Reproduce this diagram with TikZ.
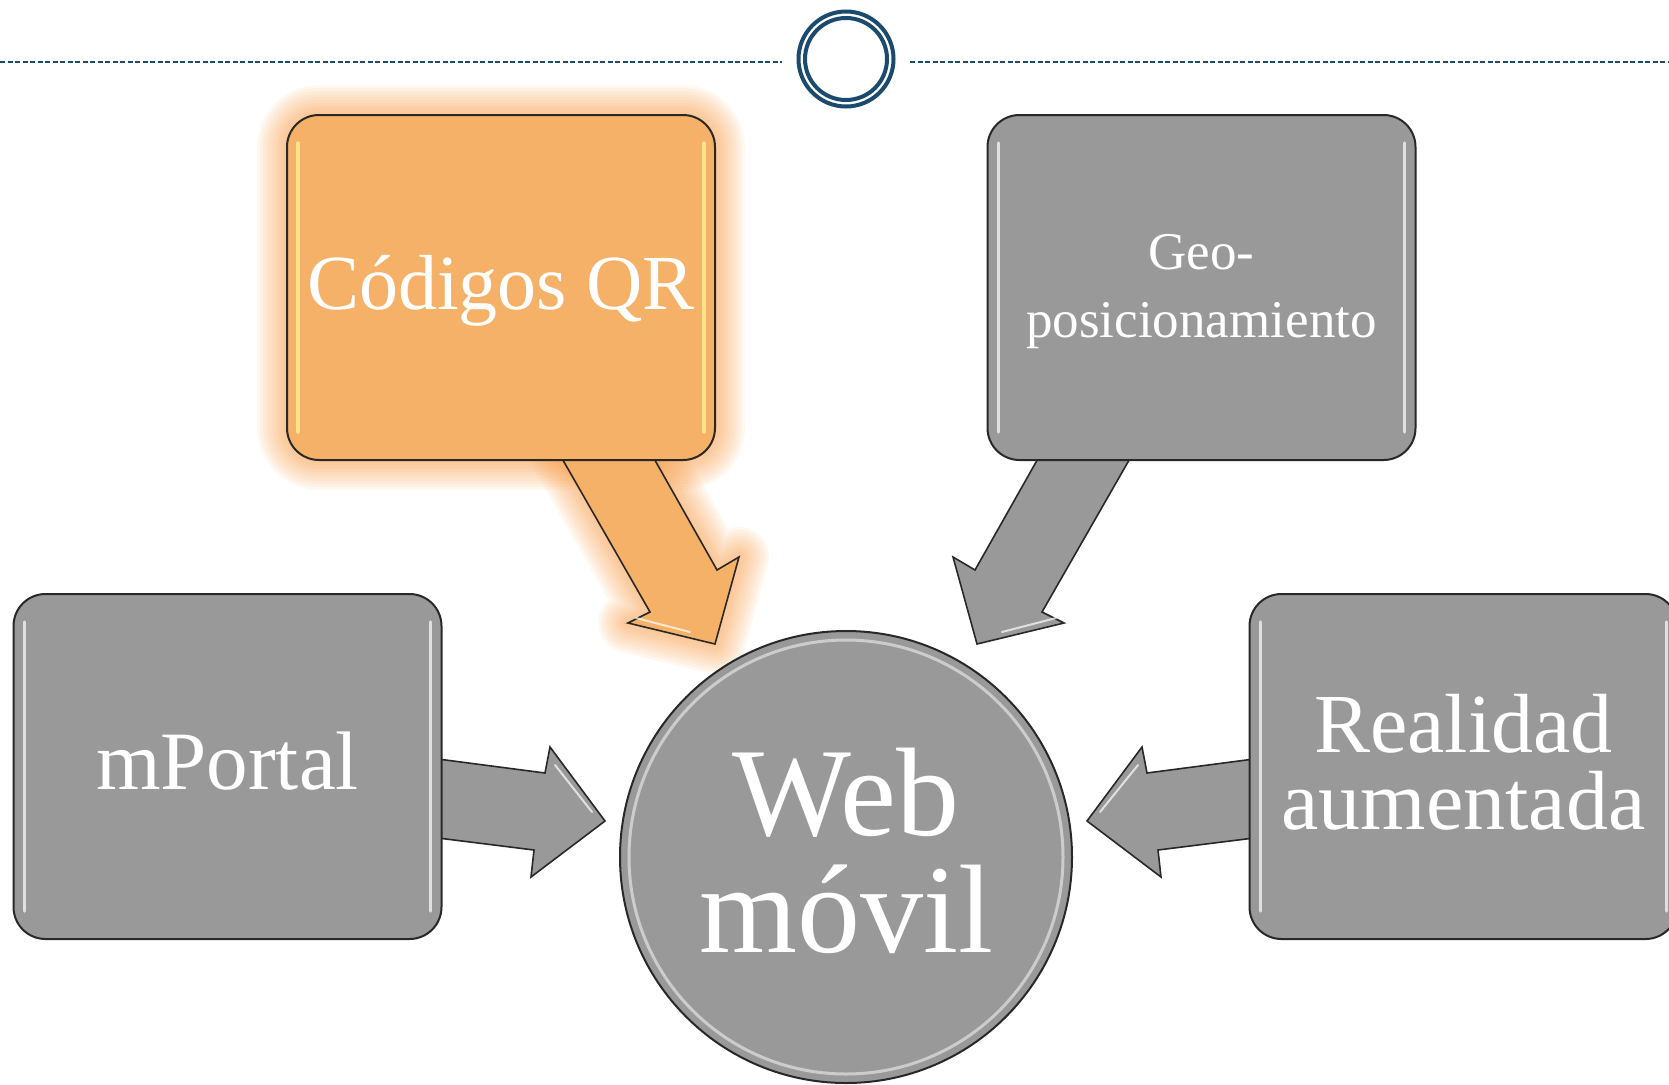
\documentclass[tikz,border=0pt]{standalone}
\usepackage{fontspec}
\setmainfont{Liberation Serif}
\definecolor{boxgray}{RGB}{153,153,153}
\definecolor{qrorange}{RGB}{246,177,104}
\definecolor{glow}{RGB}{247,150,60}
\definecolor{navy}{RGB}{26,74,110}
\definecolor{edge}{RGB}{40,40,40}
\begin{document}
\begin{tikzpicture}[x=1pt,y=-1pt,
  box/.style={draw=edge, line width=2pt, rounded corners=32pt, minimum width=428pt,
    minimum height=345pt, text=white, align=center, inner sep=0pt,
    path picture={
      \draw[#1, line width=3.5pt, line cap=round, opacity=0.7]
        ([xshift=11pt,yshift=-28pt]path picture bounding box.north west) --
        ([xshift=11pt,yshift=28pt]path picture bounding box.south west);
      \draw[#1, line width=3.5pt, line cap=round, opacity=0.7]
        ([xshift=-11pt,yshift=-28pt]path picture bounding box.north east) --
        ([xshift=-11pt,yshift=28pt]path picture bounding box.south east);
    }},
  boxtext/.style={text=white, align=center, inner sep=0pt},
  barrow/.style={draw=edge, line width=1.6pt, line join=miter},
  glowline/.style={draw=glow, line join=round, opacity=0.07, line width=#1},
  dline/.style={draw=navy, line width=1.3pt, dash pattern=on 5pt off 2.5pt}
]
\useasboundingbox (0,0) rectangle (1669,1084);
\clip (0,0) rectangle (1669,1084);

% top decoration
\coordinate (dl0) at (0,62);
\coordinate (dl1) at (782,62);
\coordinate (dr0) at (910,62);
\coordinate (dr1) at (1669,62);
\draw[dline] (dl0) -- (dl1);
\draw[dline] (dr0) -- (dr1);
\node (topc) [circle, draw=navy, line width=4pt, minimum size=95pt, inner sep=0pt] at (846,59) {};
\draw[navy, line width=4pt] (topc.center) circle (41);

% glow behind Codigos QR and its arrow
\foreach \w in {60,54,48,42,36,30,24,18,12,6}{
  \draw[glowline=\w pt, rounded corners=32pt] (287,115) rectangle (715,460);
  \draw[glowline=\w pt] (560,455) -- (650,612) -- (628,623) -- (715,644) -- (739,557) -- (717,570) -- (652,455) -- cycle;
}

% block arrows
\draw[barrow, fill=qrorange] (560,455) -- (650,612) -- (628,623) -- (715,644) -- (739,557) -- (717,570) -- (652,455) -- cycle;
\draw[barrow, fill=boxgray] (1132,455) -- (1042,612) -- (1064,623) -- (977,644) -- (953,557) -- (975,570) -- (1040,455) -- cycle;
\draw[barrow, fill=boxgray] (438,759) -- (545,773) -- (550,747) -- (605,821) -- (531,877) -- (534,850) -- (438,838) -- cycle;
\draw[barrow, fill=boxgray] (1254,759) -- (1147,773) -- (1142,747) -- (1087,821) -- (1161,877) -- (1158,850) -- (1254,838) -- cycle;
% arrow highlights
\draw[white, opacity=0.7, line width=2pt, line cap=round] (636,618) -- (690,632);
\draw[white, opacity=0.7, line width=2pt, line cap=round] (1056,618) -- (1002,632);
\draw[white, opacity=0.7, line width=2pt, line cap=round] (1100,812) -- (1138,765);
\draw[white, opacity=0.7, line width=2pt, line cap=round] (592,812) -- (555,765);

% boxes
\node (qr) [box={draw=yellow!40!white}, fill=qrorange,
  label={[boxtext, font=\fontsize{78}{88}\selectfont, yshift=-3pt]center:Códigos QR}]
  at (501,287.5) {};
\node (geo) [box=white, fill=boxgray,
  label={[boxtext, font=\fontsize{53}{68}\selectfont, yshift=-4pt]center:Geo-\\posicionamiento}]
  at (1201.5,287.5) {};
\node (mportal) [box=white, fill=boxgray,
  label={[boxtext, font=\fontsize{83}{90}\selectfont, yshift=5pt]center:mPortal}]
  at (227.5,766.5) {};
\node (realidad) [box=white, fill=boxgray,
  label={[boxtext, font=\fontsize{84}{77}\selectfont, yshift=4pt]center:Realidad\\aumentada}]
  at (1463.5,766.5) {};

% central circle
\node (web) [circle, draw=edge, line width=2pt, fill=boxgray, minimum size=452pt,
  inner sep=0pt,
  label={[boxtext, font=\fontsize{126}{117}\selectfont, yshift=6pt]center:Web\\móvil}]
  at (846,857) {};
\draw[white, opacity=0.5, line width=3pt] (web.center) circle (217);
\end{tikzpicture}
\end{document}
